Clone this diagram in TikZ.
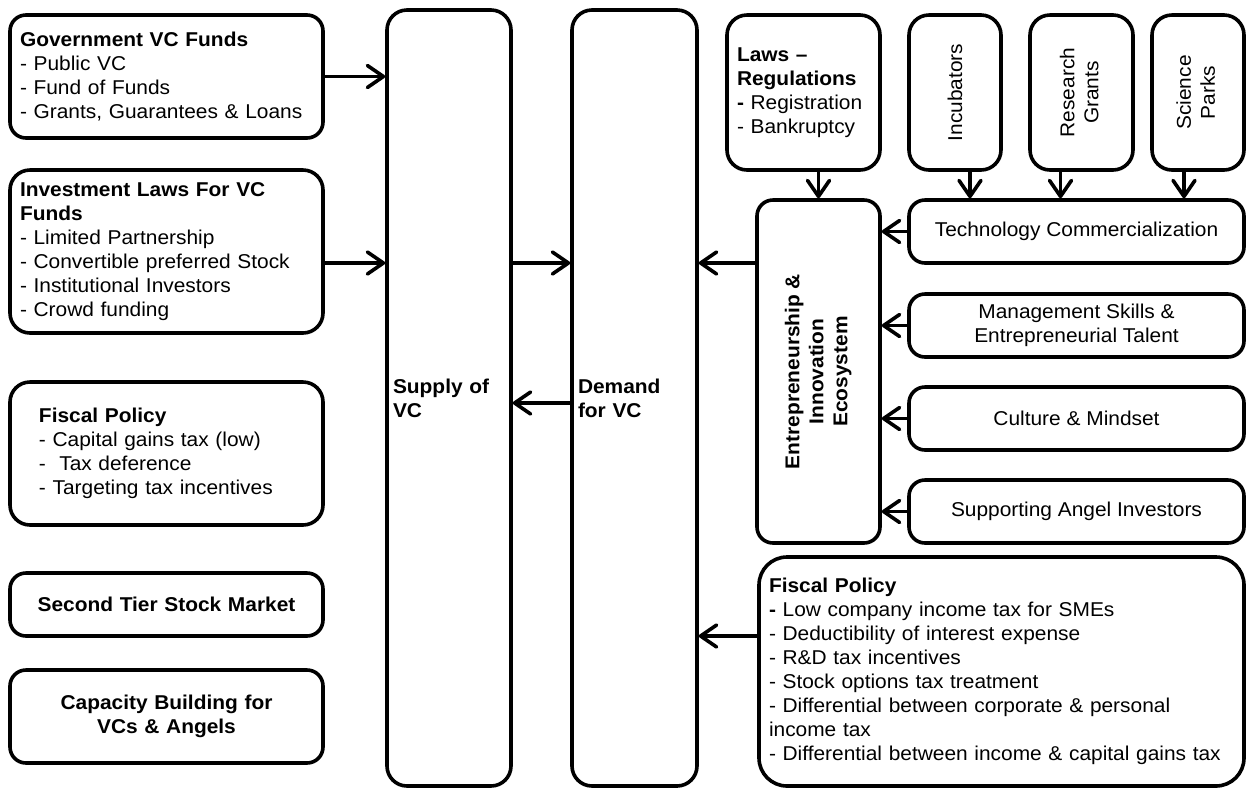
\documentclass[tikz,border=0pt]{standalone}
\usepackage{fontspec}
\setmainfont{Liberation Sans}[FakeStretch=1.045]
\usetikzlibrary{arrows.meta, positioning, calc}

\tikzset{
  box/.style={draw, line width=1.8pt, rounded corners=8pt, inner xsep=5pt, inner ysep=0pt,
    font=\fontsize{10}{12}\selectfont},
  lbox/.style={box, align=left, text width=146.5pt, minimum height=#1},
  rbox/.style={box, align=center, minimum width=167.5pt, minimum height=31.5pt},
  tallbox/.style={box, rounded corners=10pt, align=left, inner xsep=3pt, minimum height=388pt},
  upbox/.style={box, rounded corners=10pt, inner xsep=0pt, minimum width=#1, minimum height=77.5pt},
  arr/.style={-{Straight Barb[length=8pt, width=11pt, round]}, line width=1.8pt}
}

\begin{document}
\begin{tikzpicture}[x=0.5pt, y=-0.5pt]
\useasboundingbox (0,0) rectangle (1259,789);

% Left column
\node[lbox=61.5pt] (gov) at (166.5,76.5)
  {\textbf{Government VC Funds}\\- Public VC\\- Fund of Funds\\- Grants, Guarantees \& Loans};
\node[lbox=81.5pt, rounded corners=10pt] (invest) at (166.5,251.5)
  {\textbf{Investment Laws For VC}\\\textbf{Funds}\\- Limited Partnership\\- Convertible preferred Stock\\- Institutional Investors\\- Crowd funding};
\node[box, rounded corners=10pt, align=left, text width=127.5pt, inner xsep=14.5pt, minimum height=71.5pt] (fiscL) at (166.5,453.5)
  {\textbf{Fiscal Policy}\\- Capital gains tax (low)\\-\ \ Tax deference\\- Targeting tax incentives};
\node[lbox=31.5pt, align=center] (tier) at (166.5,604.5) {\textbf{Second Tier Stock Market}};
\node[lbox=46.5pt, align=center] (capac) at (166.5,716.5) {\textbf{Capacity Building for}\\\textbf{VCs \& Angels}};

% Supply and demand
\node[tallbox, text width=56pt] (supply) at (449,398) {\textbf{Supply of}\\\textbf{VC}};
\node[tallbox, text width=56.5pt] (demand) at (634.5,398) {\textbf{Demand}\\\textbf{for VC}};

% Top row
\node[box, rounded corners=10pt, align=left, text width=66.5pt, minimum height=77.5pt] (laws) at (803.5,92.5)
  {\textbf{Laws --}\\\textbf{Regulations}\\\textbf{-} Registration\\- Bankruptcy};
\node[upbox=46pt] (incub) at (955,92.5) {\rotatebox{90}{Incubators}};
\node[upbox=51.5pt] (resgr) at (1081.5,92.5) {\rotatebox{90}{\begin{tabular}{@{}c@{}}Research\\Grants\end{tabular}}};
\node[upbox=46pt] (scipk) at (1198,92.5) {\rotatebox{90}{\begin{tabular}{@{}c@{}}Science\\Parks\end{tabular}}};

% Ecosystem
\node[box, minimum width=61.5pt, minimum height=171.5pt] (eco) at (818.5,371.5)
  {\rotatebox{90}{\bfseries\begin{tabular}{@{}c@{}}Entrepreneurship \&\\Innovation\\Ecosystem\end{tabular}}};
\node[rbox] (tech) at (1076.5,231.5) {Technology Commercialization};
\node[rbox] (mgmt) at (1076.5,325.5) {Management Skills \&\\Entrepreneurial Talent};
\node[rbox] (cult) at (1076.5,418.5) {Culture \& Mindset};
\node[rbox] (angel) at (1076.5,511.5) {Supporting Angel Investors};
\node[box, rounded corners=14pt, align=left, text width=232.5pt, minimum height=114.5pt] (fiscR) at (1001.5,671.5)
  {\textbf{Fiscal Policy}\\\textbf{-} Low company income tax for SMEs\\- Deductibility of interest expense\\- R\&D tax incentives\\- Stock options tax treatment\\- Differential between corporate \& personal\\income tax\\- Differential between income \& capital gains tax};

% Arrows
\coordinate (row) at (0,263);
\coordinate (back) at (0,403);
\coordinate (low) at (0,636);
\coordinate (incarr) at ([xshift=7.5pt]incub.south);
\coordinate (resarr) at ([xshift=-10.5pt]resgr.south);
\coordinate (sciarr) at ([xshift=-7pt]scipk.south);

\draw[arr] (gov.east) -- (gov.east -| supply.west);
\draw[arr] (invest.east |- row) -- (supply.west |- row);
\draw[arr] (supply.east |- row) -- (demand.west |- row);
\draw[arr] (demand.west |- back) -- (supply.east |- back);
\draw[arr] (eco.west |- row) -- (demand.east |- row);
\draw[arr] (fiscR.west |- low) -- (demand.east |- low);
\draw[arr] (laws.south -| eco.north) -- (eco.north);
\foreach \c in {incarr, resarr, sciarr}
  \draw[arr] (\c) -- (\c |- tech.north);
\foreach \n in {tech, mgmt, cult, angel}
  \draw[arr] (\n.west) -- (\n.west -| eco.east);
\end{tikzpicture}
\end{document}
